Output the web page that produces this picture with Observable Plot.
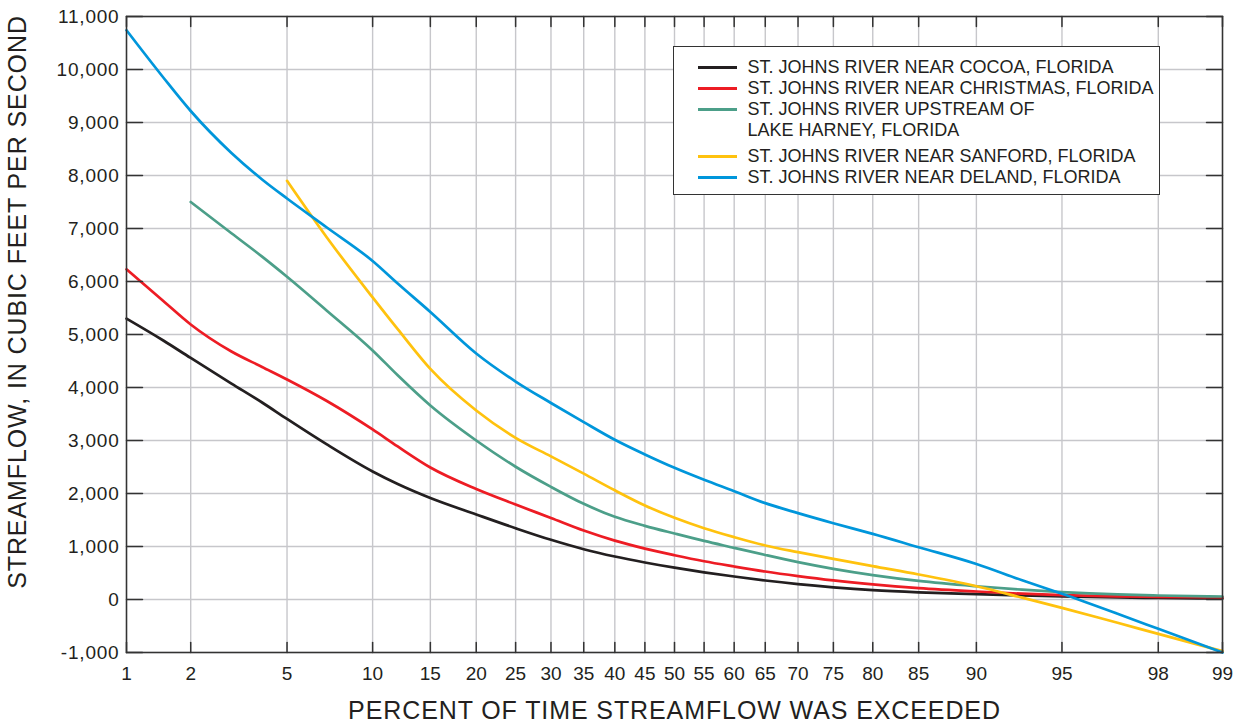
<!DOCTYPE html>
<html>
<head>
<meta charset="utf-8">
<script src="https://cdn.jsdelivr.net/npm/d3@7"></script>
<script src="https://cdn.jsdelivr.net/npm/@observablehq/plot@0.6"></script>
<style>
  body { margin: 0; background: #fff; }
  #chart { position: relative; width: 1242px; height: 724px; font-family: "Liberation Sans", Arial, sans-serif; color: #231f20; }
  #chart svg { display: block; }
  #legend { position: absolute; left: 673px; top: 46px; width: 487px; height: 149px; box-sizing: border-box;
            border: 1.5px solid #333; background: #fff; padding: 10px 0 0 23.5px; font-size: 18px; line-height: 21px; }
  .row { display: flex; align-items: flex-start; }
  .row.gap { margin-top: 5px; }
  .sw { width: 39px; height: 0; border-top: 3px solid; margin-top: 9px; margin-right: 11px; flex: none; }
  .ytl text { letter-spacing: 0.8px; }
</style>
</head>
<body>
<div id="chart"></div>
<script>
// Exceedance percentages at which each flow-duration curve is read
const percents = [1, 1.5, 2, 3, 4, 5, 7, 10, 12, 15, 20, 25, 30, 35, 40, 45, 50, 55, 60, 65, 70, 75, 80, 85, 90, 93, 95, 97, 98, 99];

// Streamflow, cubic feet per second (null where a station's curve is not drawn)
const cocoaFlow     = [5300, 4887, 4557, 4075, 3717, 3406, 2925, 2415, 2179, 1915, 1605, 1345, 1126, 949, 811, 698, 600, 513, 434, 358, 290, 230, 177, 136, 102, 77, 58, 38, 28, 19];
const christmasFlow = [6230, 5632, 5189, 4679, 4387, 4151, 3745, 3208, 2887, 2491, 2085, 1792, 1538, 1300, 1110, 960, 835, 721, 623, 528, 442, 360, 285, 215, 151, 109, 83, 60, 51, 40];
const harneyFlow    = [null, null, 7500, 6910, 6470, 6090, 5450, 4700, 4230, 3660, 3000, 2505, 2125, 1805, 1560, 1390, 1245, 1105, 975, 840, 705, 578, 460, 350, 250, 185, 140, 95, 75, 57];
const sanfordFlow   = [null, null, null, null, null, 7900, 6830, 5700, 5100, 4350, 3566, 3050, 2700, 2375, 2060, 1774, 1541, 1345, 1176, 1019, 893, 767, 629, 472, 250, 35, -157, -440, -648, -975];
const delandFlow    = [10740, 9849, 9217, 8425, 7925, 7566, 7019, 6387, 5962, 5425, 4642, 4113, 3708, 3346, 3013, 2736, 2484, 2258, 2044, 1818, 1630, 1440, 1239, 987, 670, 362, 107, -270, -553, -1000];

const stations = [
  "ST. JOHNS RIVER NEAR COCOA, FLORIDA",
  "ST. JOHNS RIVER NEAR CHRISTMAS, FLORIDA",
  "ST. JOHNS RIVER UPSTREAM OF LAKE HARNEY, FLORIDA",
  "ST. JOHNS RIVER NEAR SANFORD, FLORIDA",
  "ST. JOHNS RIVER NEAR DELAND, FLORIDA"
];
const legendLines = [
  ["ST. JOHNS RIVER NEAR COCOA, FLORIDA"],
  ["ST. JOHNS RIVER NEAR CHRISTMAS, FLORIDA"],
  ["ST. JOHNS RIVER UPSTREAM OF", "LAKE HARNEY, FLORIDA"],
  ["ST. JOHNS RIVER NEAR SANFORD, FLORIDA"],
  ["ST. JOHNS RIVER NEAR DELAND, FLORIDA"]
];
const stationColors = ["#231f20", "#ed1c24", "#4c9f89", "#ffc20e", "#0096db"];

const percentTicks = [1, 2, 5, 10, 15, 20, 25, 30, 35, 40, 45, 50, 55, 60, 65, 70, 75, 80, 85, 90, 95, 98, 99];
const flowTicks = [-1000, 0, 1000, 2000, 3000, 4000, 5000, 6000, 7000, 8000, 9000, 10000, 11000];

const xTitle = "PERCENT OF TIME STREAMFLOW WAS EXCEEDED";
const yTitle = "STREAMFLOW, IN CUBIC FEET PER SECOND";

// Inverse standard normal CDF (Acklam's rational approximation) for the probability axis
function probit(p) {
  const a = [-39.69683028665376, 220.9460984245205, -275.9285104469687, 138.3577518672690, -30.66479806614716, 2.506628277459239];
  const b = [-54.47609879822406, 161.5858368580409, -155.6989798598866, 66.80131188771972, -13.28068155288572];
  const c = [-7.784894002430293e-03, -0.3223964580411365, -2.400758277161838, -2.549732539343734, 4.374664141464968, 2.938163982698783];
  const d = [7.784695709041462e-03, 0.3224671290700398, 2.445134137142996, 3.754408661907416];
  const lo = 0.02425, hi = 1 - lo;
  if (p < lo) {
    const q = Math.sqrt(-2 * Math.log(p));
    return (((((c[0]*q+c[1])*q+c[2])*q+c[3])*q+c[4])*q+c[5]) / ((((d[0]*q+d[1])*q+d[2])*q+d[3])*q+1);
  }
  if (p <= hi) {
    const q = p - 0.5, r = q * q;
    return (((((a[0]*r+a[1])*r+a[2])*r+a[3])*r+a[4])*r+a[5])*q / (((((b[0]*r+b[1])*r+b[2])*r+b[3])*r+b[4])*r+1);
  }
  const q = Math.sqrt(-2 * Math.log(1 - p));
  return -(((((c[0]*q+c[1])*q+c[2])*q+c[3])*q+c[4])*q+c[5]) / ((((d[0]*q+d[1])*q+d[2])*q+d[3])*q+1);
}

// Long table for the line mark
const series = [cocoaFlow, christmasFlow, harneyFlow, sanfordFlow, delandFlow];
const rows = [];
series.forEach((values, s) => values.forEach((v, i) => {
  if (v != null) rows.push({station: stations[s], pct: percents[i], z: probit(percents[i] / 100), flow: v});
}));

const xTickZ = percentTicks.map(p => probit(p / 100));
const xLabel = new Map(xTickZ.map((z, i) => [z, String(percentTicks[i])]));

// Short straight stroke used for the inward-pointing frame ticks
const tickShape = {draw(context, l) { context.moveTo(0, 0); context.lineTo(0, -l); }};
const tickStyle = {stroke: "#333", strokeWidth: 1.5, anchor: "start", shape: tickShape};

const chart = Plot.plot({
  width: 1242,
  height: 724,
  marginLeft: 126,
  marginRight: 20,
  marginTop: 16,
  marginBottom: 72,
  style: {fontFamily: "'Liberation Sans', Arial, sans-serif", fontSize: "19px", color: "#231f20", background: "#fff"},
  x: {type: "linear", domain: [probit(0.01), probit(0.99)]},
  y: {domain: [-1000, 11000]},
  color: {domain: stations, range: stationColors},
  marks: [
    Plot.gridX(xTickZ, {stroke: "#c7c7cb", strokeOpacity: 1, strokeWidth: 1.4}),
    Plot.gridY(flowTicks, {stroke: "#c7c7cb", strokeOpacity: 1, strokeWidth: 1.4}),
    Plot.line(rows, {x: "z", y: "flow", z: "station", stroke: "station", strokeWidth: 2.7, curve: "monotone-x"}),
    Plot.frame({stroke: "#333", strokeWidth: 1.5}),
    Plot.vector(flowTicks, {y: d => d, frameAnchor: "left", rotate: 90, length: 16, ...tickStyle}),
    Plot.vector(flowTicks, {y: d => d, frameAnchor: "right", rotate: -90, length: 16, ...tickStyle}),
    Plot.vector(xTickZ, {x: d => d, frameAnchor: "bottom", rotate: 0, length: 10, ...tickStyle}),
    Plot.vector(xTickZ, {x: d => d, frameAnchor: "top", rotate: 180, length: 10, ...tickStyle}),
    Plot.axisX(xTickZ, {tickSize: 0, tickPadding: 14, tickFormat: z => xLabel.get(z), label: null, fill: "#231f20"}),
    Plot.axisY(flowTicks, {tickSize: 0, tickPadding: 7, tickFormat: d => d.toLocaleString("en-US"), label: null, fill: "#231f20", className: "ytl"})
  ]
});

const root = document.getElementById("chart");
root.appendChild(chart);

// Axis titles
const svg = d3.select(chart);
svg.append("text")
  .attr("x", 674.5).attr("y", 719)
  .attr("text-anchor", "middle")
  .attr("fill", "#231f20")
  .style("font-size", "25px").style("letter-spacing", "0.9px")
  .text(xTitle);
svg.append("text")
  .attr("transform", "translate(26,302) rotate(-90)")
  .attr("text-anchor", "middle")
  .attr("fill", "#231f20")
  .style("font-size", "25px").style("letter-spacing", "0.9px")
  .text(yTitle);

// Legend box
const legend = d3.select(root).append("div").attr("id", "legend");
legendLines.forEach((lines, i) => {
  const row = legend.append("div").attr("class", "row" + (i === 3 ? " gap" : ""));
  row.append("div").attr("class", "sw").style("border-top-color", stationColors[i]);
  const label = row.append("div");
  lines.forEach(t => label.append("div").text(t));
});
</script>
</body>
</html>
